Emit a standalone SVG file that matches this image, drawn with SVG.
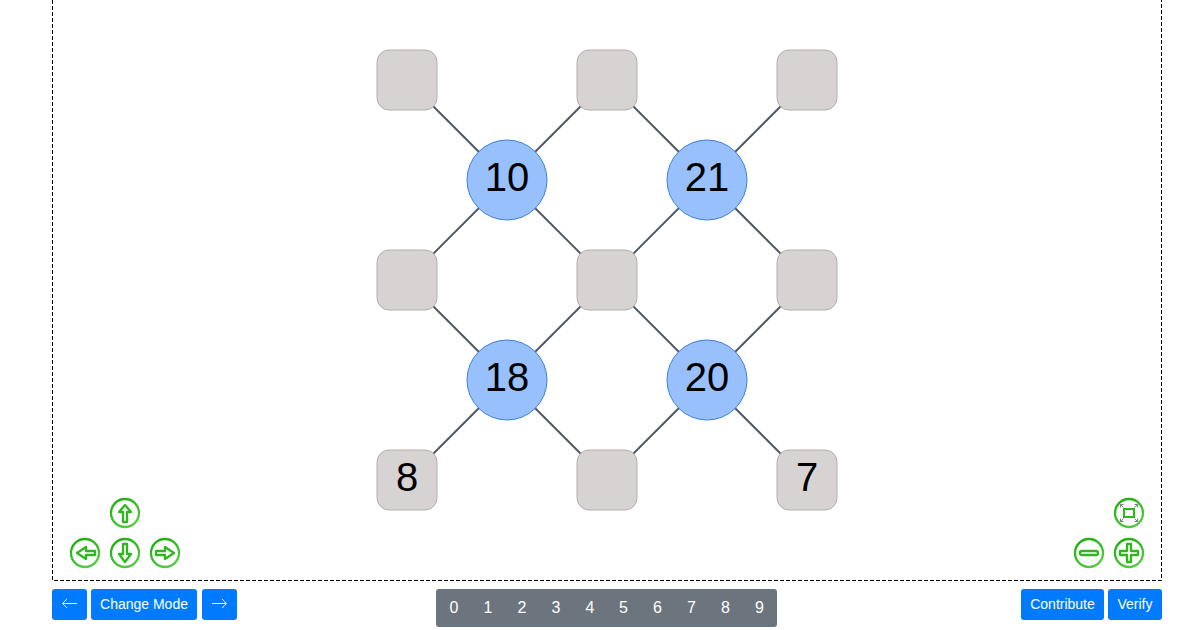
<svg xmlns="http://www.w3.org/2000/svg" width="1200" height="630" viewBox="0 0 1200 630">
<defs>
<linearGradient id="rg" x1="0.2" y1="0" x2="0.8" y2="1"><stop offset="0" stop-color="#1fae0e"/><stop offset="1" stop-color="#58cc48"/></linearGradient>
</defs>
<style>
text{font-family:"Liberation Sans",Arial,sans-serif;text-anchor:middle}
.sq{fill:#d8d3d3;stroke:#b3aeae;stroke-width:1}
.ci{fill:#97c0fc;stroke:#3b7fe0;stroke-width:1}
.big{font-size:40px;fill:#000}
.edge{stroke:#555b66;stroke-width:2;fill:none}
.btn{fill:#007bff}
.bt{font-size:14px;fill:#fff}
.dg{font-size:16px;fill:#fff}
.ring{fill:#fff;stroke:url(#rg);stroke-width:2.300}
.ic{fill:#fff;stroke:#2fb81c;stroke-width:2.300;stroke-linejoin:round}
.ar{stroke:#fff;stroke-width:1;fill:none}
.cor{stroke:#808080;stroke-width:1;fill:none}
</style>
<rect width="1200" height="630" fill="#fff"/>
<path id="frame" d="M52.500 0V580.500H1161.500V0" fill="none" stroke="#000" stroke-width="1" stroke-dasharray="4 2"/>
<g id="connectors" class="edge">
<path d="M407 80L807 480M607 80L807 280M807 80L407 480M607 80L407 280M407 280L607 480M807 280L607 480"/>
</g>
<g id="n-r0c0"><rect class="sq" x="377" y="50" width="60" height="60" rx="12"/></g>
<g id="n-r0c1"><rect class="sq" x="577" y="50" width="60" height="60" rx="12"/></g>
<g id="n-r0c2"><rect class="sq" x="777" y="50" width="60" height="60" rx="12"/></g>
<g id="n-r1c0"><rect class="sq" x="377" y="250" width="60" height="60" rx="12"/></g>
<g id="n-r1c1"><rect class="sq" x="577" y="250" width="60" height="60" rx="12"/></g>
<g id="n-r1c2"><rect class="sq" x="777" y="250" width="60" height="60" rx="12"/></g>
<g id="n-r2c0"><rect class="sq" x="377" y="450" width="60" height="60" rx="12"/><text class="big" x="407" y="491">8</text></g>
<g id="n-r2c1"><rect class="sq" x="577" y="450" width="60" height="60" rx="12"/></g>
<g id="n-r2c2"><rect class="sq" x="777" y="450" width="60" height="60" rx="12"/><text class="big" x="807" y="491">7</text></g>
<g id="c-10"><circle class="ci" cx="507" cy="180" r="40"/><text class="big" x="507" y="191">10</text></g>
<g id="c-21"><circle class="ci" cx="707" cy="180" r="40"/><text class="big" x="707" y="191">21</text></g>
<g id="c-18"><circle class="ci" cx="507" cy="380" r="40"/><text class="big" x="507" y="391">18</text></g>
<g id="c-20"><circle class="ci" cx="707" cy="380" r="40"/><text class="big" x="707" y="391">20</text></g>
<g id="pan-up"><circle class="ring" cx="125" cy="513" r="14"/><path class="ic" d="M125 505L131 512H127V522H123V512H119Z"/></g>
<g id="pan-left"><circle class="ring" cx="85" cy="553" r="14"/><path class="ic" d="M77 553L86 547V551H95V555H86V559Z"/></g>
<g id="pan-down"><circle class="ring" cx="125" cy="553" r="14"/><path class="ic" d="M125 562L131 554H127V544H123V554H119Z"/></g>
<g id="pan-right"><circle class="ring" cx="165" cy="553" r="14"/><path class="ic" d="M174 553L165 547V551H156V555H165V559Z"/></g>
<g id="fit"><circle class="ring" cx="1129" cy="513" r="14"/><path class="cor" d="M1120.500 504.500L1123.500 507.500M1120.500 507.500V504.500H1123.500M1137.500 504.500L1134.500 507.500M1134.500 504.500H1137.500V507.500M1137.500 521.500L1134.500 518.500M1137.500 518.500V521.500H1134.500M1120.500 521.500L1123.500 518.500M1123.500 521.500H1120.500V518.500"/><rect x="1124" y="509" width="10" height="8" fill="#fff" stroke="#2fb81c" stroke-width="2"/></g>
<g id="zoom-out"><circle class="ring" cx="1089" cy="553" r="14"/><rect class="ic" x="1080" y="551" width="18" height="4" rx="2"/></g>
<g id="zoom-in"><circle class="ring" cx="1129" cy="553" r="14"/><path class="ic" d="M1127 544H1131V551H1138V555H1131V562H1127V555H1120V551H1127Z"/></g>
<g id="btn-prev"><rect class="btn" x="52" y="589" width="35" height="31" rx="3"/><path class="ar" d="M77 603.500H63M67 599L62.500 603.500L67 608"/></g>
<g id="btn-mode"><rect class="btn" x="91" y="589" width="106" height="31" rx="3"/><text class="bt" x="144" y="609">Change Mode</text></g>
<g id="btn-next"><rect class="btn" x="202" y="589" width="35" height="31" rx="3"/><path class="ar" d="M212 603.500H226M222 599L226.500 603.500L222 608"/></g>
<g id="digits"><rect x="436" y="589" width="341" height="38" rx="3" fill="#6c757d"/>
<text class="dg" x="454" y="613">0</text><text class="dg" x="488" y="613">1</text><text class="dg" x="522" y="613">2</text><text class="dg" x="556" y="613">3</text><text class="dg" x="590" y="613">4</text><text class="dg" x="623.500" y="613">5</text><text class="dg" x="657.500" y="613">6</text><text class="dg" x="691.500" y="613">7</text><text class="dg" x="725.500" y="613">8</text><text class="dg" x="759.500" y="613">9</text></g>
<g id="btn-contribute"><rect class="btn" x="1021" y="589" width="83" height="31" rx="3"/><text class="bt" x="1062.500" y="609">Contribute</text></g>
<g id="btn-verify"><rect class="btn" x="1108" y="589" width="54" height="31" rx="3"/><text class="bt" x="1135" y="609">Verify</text></g>
</svg>
